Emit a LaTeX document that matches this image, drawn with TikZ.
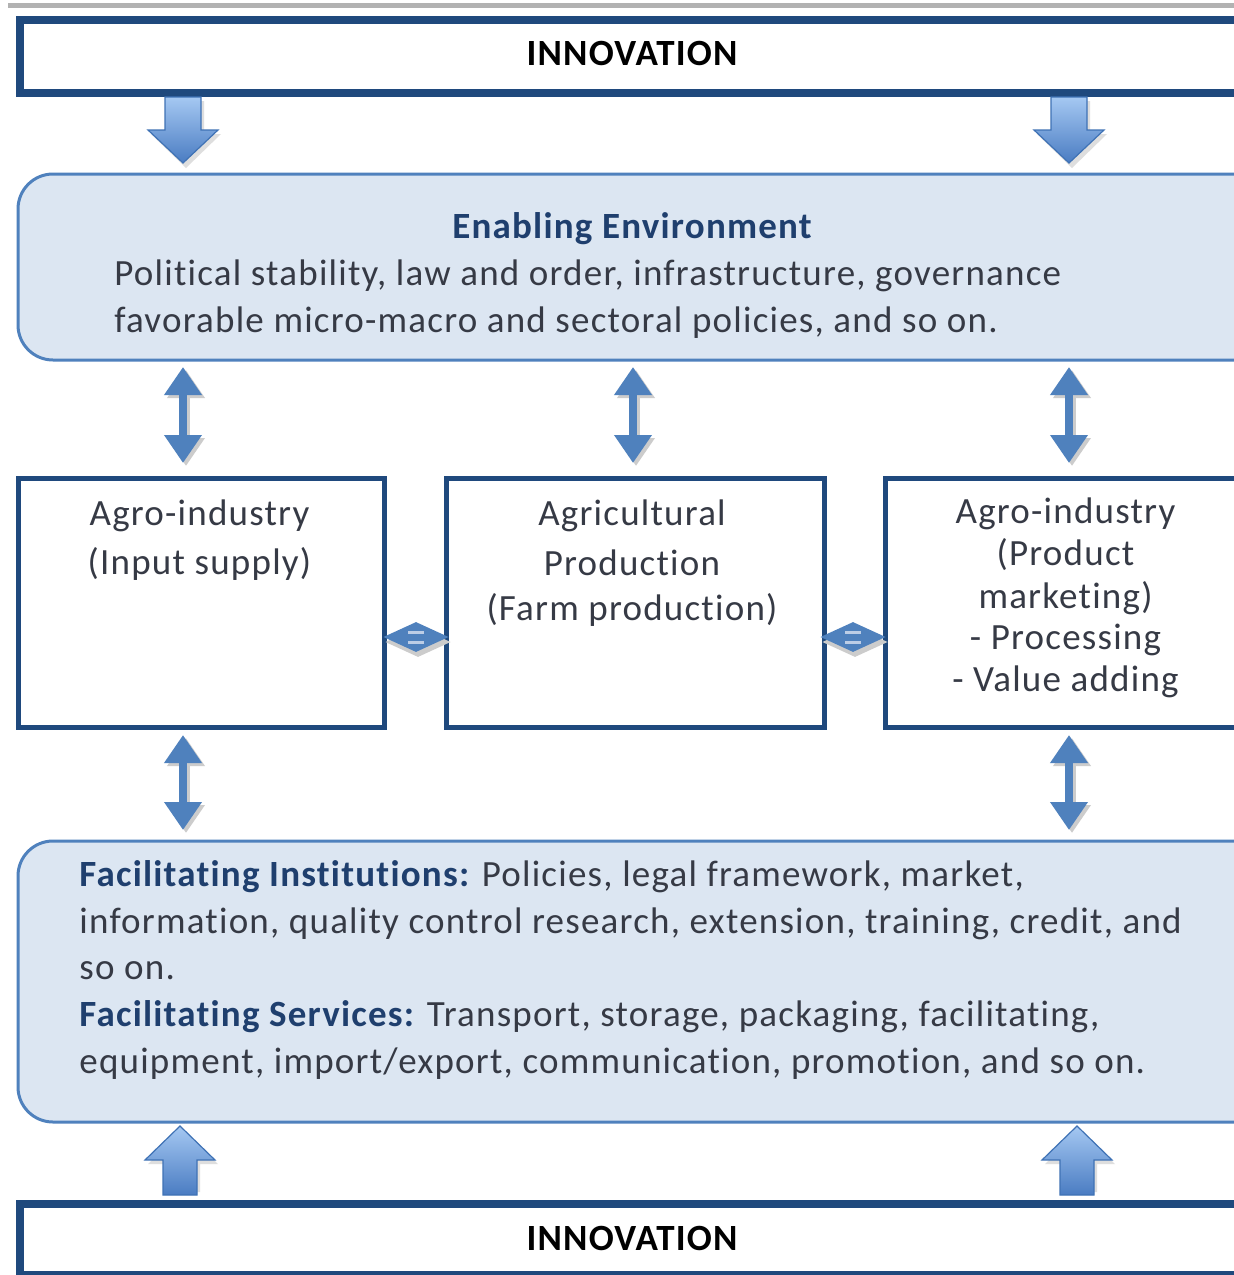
\documentclass[tikz,border=0pt]{standalone}
\usepackage{fontspec}
\setmainfont{Carlito}[LetterSpace=3.3, Ligatures=NoCommon]
\usetikzlibrary{arrows.meta,calc}
\definecolor{frame}{HTML}{1F497D}
\definecolor{envfill}{HTML}{DCE6F2}
\definecolor{envdraw}{HTML}{4F81BD}
\definecolor{arrowblue}{HTML}{4F81BD}
\definecolor{barlight}{HTML}{BCCDE6}
\definecolor{blockdraw}{HTML}{3F72B5}
\definecolor{blocktop}{HTML}{A5C8F2}
\definecolor{blockbot}{HTML}{4A7CC2}
\definecolor{txt}{HTML}{363A45}
\definecolor{ttl}{HTML}{1F3F6E}
\tikzset{
  innobox/.style={draw=frame, line width=4pt, fill=white, anchor=north west, inner sep=0pt},
  midbox/.style={draw=frame, line width=2.5pt, fill=white, anchor=north west, inner sep=0pt},
  envbox/.style={draw=envdraw, line width=1.5pt, fill=envfill, rounded corners=17.5pt, anchor=north west, inner sep=0pt},
  bodytxt/.style={text=txt, inner sep=0pt, font=\fontsize{18.5}{22}\selectfont},
  ttltxt/.style={text=ttl, inner sep=0pt, font=\fontsize{18.5}{22}\selectfont\bfseries},
  innotxt/.style={text=black, inner sep=0pt, font=\fontsize{18.5}{22}\selectfont\bfseries},
  dbl/.style={draw=arrowblue, line width=4pt, {Triangle[width=18pt,length=14pt]}-{Triangle[width=18pt,length=14pt]}},
  hdbl/.style={draw=arrowblue, line width=3pt, {Triangle[width=14pt,length=16.5pt]}-{Triangle[width=14pt,length=16.5pt]}},
  blockarrow/.style={top color=blocktop, bottom color=blockbot, draw=blockdraw, line width=0.6pt, line join=miter},
  blockshadow/.style={fill=black!25, opacity=0.5},
}
\begin{document}
\begin{tikzpicture}[x=0.5pt,y=-0.5pt]
\useasboundingbox (0,0) rectangle (1234,1275);
\clip (0,0) rectangle (1234,1275);
\fill[white] (0,0) rectangle (1234,1275);

% top gray line
\fill[black!30] (8,3) rectangle (1240,8);

% boxes
\node[innobox, minimum width=627pt, minimum height=36.5pt] (topbox) at (16,16) {};
\node[innotxt] (toptxt) at (632,53) {INNOVATION};

\node[envbox, minimum width=630pt, minimum height=93pt] (env) at (16.5,172.5) {};
\node[ttltxt] (envttl) at (632,229) {Enabling Environment};
\node[bodytxt, anchor=mid west] (envl1) at (114,281) {Political stability, law and order, infrastructure, governance};
\node[bodytxt, anchor=mid west] (envl2) at (114,328) {favorable micro-macro and sectoral policies, and so on.};

\node[midbox, minimum width=183pt, minimum height=124.5pt] (input) at (15.5,475.5) {};
\node[bodytxt] (inl1) at (199.5,516) {Agro-industry};
\node[bodytxt] (inl2) at (199.5,564) {(Input supply)};

\node[midbox, minimum width=189pt, minimum height=124.5pt] (farm) at (443.5,475.5) {};
\node[bodytxt] (fl1) at (632,516) {Agricultural};
\node[bodytxt] (fl2) at (632,563) {Production};
\node[bodytxt] (fl3) at (632,610) {(Farm production)};

\node[midbox, minimum width=190pt, minimum height=124.5pt] (market) at (882.5,475.5) {};
\node[bodytxt] (ml1) at (1065.5,514) {Agro-industry};
\node[bodytxt] (ml2) at (1065.5,555) {(Product};
\node[bodytxt] (ml3) at (1065.5,598) {marketing)};
\node[bodytxt] (ml4) at (1065.5,640) {- Processing};
\node[bodytxt] (ml5) at (1065.5,682) {- Value adding};

\node[envbox, minimum width=630pt, minimum height=140.5pt] (fac) at (16.5,839.5) {};
\node[bodytxt, anchor=mid west] (fa1) at (79,882) {\textcolor{ttl}{\bfseries Facilitating Institutions:} Policies, legal framework, market,};
\node[bodytxt, anchor=mid west] (fa2) at (79,929) {information, quality control research, extension, training, credit, and};
\node[bodytxt, anchor=mid west] (fa3) at (79,975) {so on.};
\node[bodytxt, anchor=mid west] (fa4) at (79,1022) {\textcolor{ttl}{\bfseries Facilitating Services:} Transport, storage, packaging, facilitating,};
\node[bodytxt, anchor=mid west] (fa5) at (79,1069) {equipment, import/export, communication, promotion, and so on.};

\node[innobox, minimum width=627pt, minimum height=35.5pt] (botbox) at (16,1200) {};
\node[innotxt] (bottxt) at (632,1238) {INNOVATION};

% block arrows down
\foreach \cx in {183,1069}{
  \fill[blockshadow] (\cx-18+3,97+4) -- (\cx+18+3,97+4) -- (\cx+18+3,130+4) -- (\cx+35+3,130+4) -- (\cx+3,163+5) -- (\cx-35+3,130+4) -- (\cx-18+3,130+4) -- cycle;
  \draw[blockarrow] (\cx-18,97) -- (\cx+18,97) -- (\cx+18,130) -- (\cx+35,130) -- (\cx,163) -- (\cx-35,130) -- (\cx-18,130) -- cycle;
}
% block arrows up
\foreach \cx in {180,1077}{
  \fill[blockshadow] (\cx+3,1126+4) -- (\cx+35+3,1160+4) -- (\cx+17+3,1160+4) -- (\cx+17+3,1192) -- (\cx-17+3,1192) -- (\cx-17+3,1160+4) -- (\cx-35+3,1160+4) -- cycle;
  \draw[blockarrow] (\cx,1126) -- (\cx+35,1160) -- (\cx+17,1160) -- (\cx+17,1195) -- (\cx-17,1195) -- (\cx-17,1160) -- (\cx-35,1160) -- cycle;
}

% vertical double arrows
\coordinate (e1) at (183,367); \coordinate (i1) at (183,463);
\coordinate (e2) at (633,367); \coordinate (f2) at (633,463);
\coordinate (e3) at (1069,367); \coordinate (m3) at (1069,463);
\coordinate (i4) at (183,735); \coordinate (g4) at (183,830);
\coordinate (m5) at (1069,735); \coordinate (g5) at (1069,830);
\foreach \a/\b in {e1/i1,e2/f2,e3/m3,i4/g4,m5/g5}{
  \draw[dbl, draw=black!20, transform canvas={xshift=1.5pt,yshift=-1.5pt}] (\a) -- (\b);
  \draw[dbl] (\a) -- (\b);
}
% horizontal double arrows
\coordinate (h1a) at (383,637); \coordinate (h1b) at (449,637);
\coordinate (h2a) at (820,637); \coordinate (h2b) at (886,637);
\foreach \a/\b in {h1a/h1b,h2a/h2b}{
  \draw[hdbl, draw=black!20, transform canvas={xshift=1pt,yshift=-2.5pt}] (\a) -- (\b);
  \draw[hdbl] (\a) -- (\b);
  \draw[barlight, line width=1.5pt] ($(\a)!0.5!(\b)+(-8,-5)$) -- ($(\a)!0.5!(\b)+(8,-5)$);
  \draw[barlight, line width=1.5pt] ($(\a)!0.5!(\b)+(-8,5)$) -- ($(\a)!0.5!(\b)+(8,5)$);
}
\end{tikzpicture}
\end{document}
